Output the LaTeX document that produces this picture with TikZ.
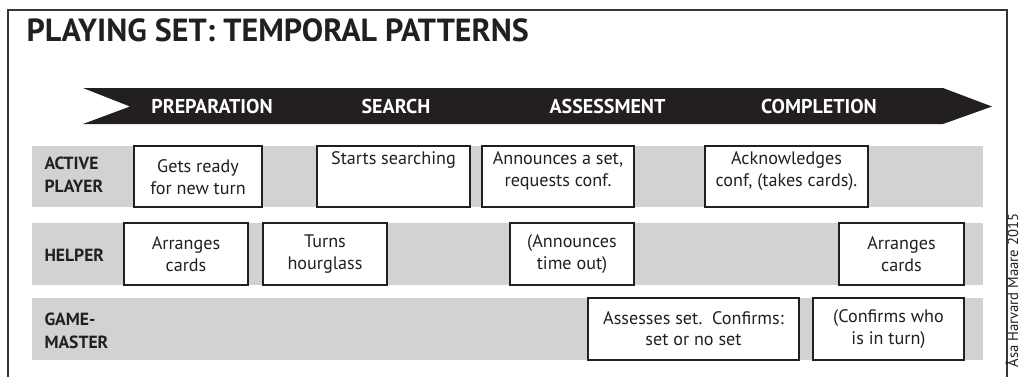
\documentclass[tikz,border=0pt]{standalone}
\usepackage{fontspec}
\setmainfont{PT Sans}
\definecolor{laneGray}{RGB}{209,210,212}
\definecolor{inkBlack}{RGB}{35,31,32}
\tikzset{every picture/.style={line width=0.75pt}}

\begin{document}
\begin{tikzpicture}[x=0.75pt,y=0.75pt,yscale=-1,xscale=1,
  lane/.style={fill=laneGray,draw=none},
  cell/.style={fill=white,draw=inkBlack,line width=0.9pt},
  celltext/.style={inner sep=0.75pt,align=center,text=inkBlack,font=\fontsize{13.6}{16.2}\selectfont},
  rolelabel/.style={anchor=west,inner sep=0.75pt,align=left,text=inkBlack,font=\fontsize{13.2}{17}\selectfont\bfseries},
  phaselabel/.style={inner sep=0.75pt,text=white,font=\fontsize{15}{17}\selectfont\bfseries}]
\useasboundingbox (0,0) rectangle (1022,376);

%Shape: Frame
\draw[draw=inkBlack!90,line width=1.5pt] (8,380) -- (8,9.5) -- (1006.5,9.5) -- (1006.5,380);

% Text Node
\node[anchor=west,inner sep=0.75pt,text=inkBlack,font=\fontsize{24}{28}\selectfont\bfseries] (title) at (25,30) {PLAYING SET: TEMPORAL PATTERNS};

%Shape: Arrow
\fill[inkBlack] (83,88) -- (943,88) -- (992,106.5) -- (943,124) -- (83,124) -- (130,106.5) -- cycle;

% Text Node
\node[phaselabel] (prep) at (212,106.5) {PREPARATION};
\node[phaselabel] (search) at (396,106.5) {SEARCH};
\node[phaselabel] (assess) at (607.5,106.5) {ASSESSMENT};
\node[phaselabel] (complete) at (819,106.5) {COMPLETION};

%Shape: Lanes
\fill[lane] (32,146) rectangle (983,207);
\fill[lane] (32,223) rectangle (983,285);
\fill[lane] (32,298) rectangle (983,360);

% Text Node
\node[rolelabel] (player) at (43,175) {ACTIVE\\PLAYER};
\node[rolelabel] (helper) at (43,255) {HELPER};
\node[rolelabel] (master) at (43,330.5) {GAME-\\MASTER};

%Shape: Active player cells
\draw[cell] (134,146) rectangle (262,207);
\draw[cell] (317,146) rectangle (470,207);
\draw[cell] (482,146) rectangle (634,207);
\draw[cell] (705,146) rectangle (868,207);

%Shape: Helper cells
\draw[cell] (124,223) rectangle (248,285);
\draw[cell] (263,223) rectangle (387,285);
\draw[cell] (510,223) rectangle (634,285);
\draw[cell] (839,223) rectangle (964,285);

%Shape: Game-master cells
\draw[cell] (588,298) rectangle (799,360);
\draw[cell] (813,298) rectangle (964,360);

% Text Node
\node[celltext] (ready) at (198,177) {Gets ready\\for new turn};
\node[celltext,anchor=north] (searching) at (393.5,150) {Starts searching};
\node[celltext] (announce) at (558,171) {Announces a set,\\requests conf.};
\node[celltext] (acknowledge) at (786.5,171) {Acknowledges\\conf, (takes cards).};
\node[celltext] (arrange) at (186,254) {Arranges\\cards};
\node[celltext] (hourglass) at (325,254) {Turns\\hourglass};
\node[celltext] (timeout) at (572,254) {(Announces\\time out)};
\node[celltext] (rearrange) at (901.5,254) {Arranges\\cards};
\node[celltext] (verdict) at (693.5,328.5) {Assesses set.~~Confirms:\\set or no set};
\node[celltext] (inturn) at (888.5,329) {(Confirms who\\is in turn)};

% Text Node
\node[rotate=90,anchor=west,inner sep=0.75pt,text=inkBlack,font=\fontsize{11}{13}\selectfont] (credit) at (1012,369) {Åsa Harvard Maare 2015};

\end{tikzpicture}
\end{document}
